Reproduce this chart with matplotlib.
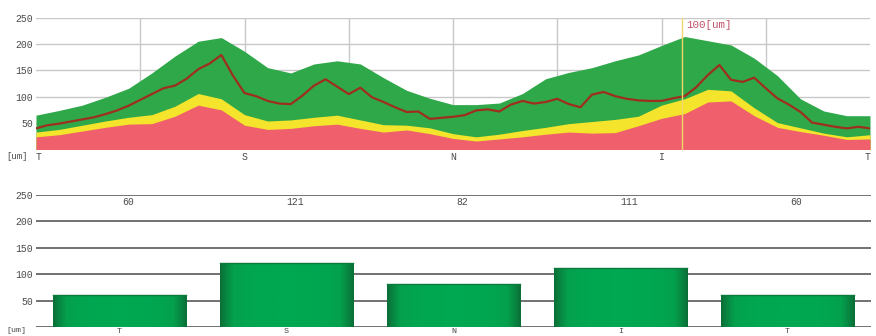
import numpy as np
import matplotlib.pyplot as plt
from matplotlib.colors import LinearSegmentedColormap

# --- top chart: thickness profile (degrees 0..360, T-S-N-I-T) ---
band_deg = list(range(0, 361, 10))
green_top = [65, 74, 84, 99, 116, 145, 177, 205, 212, 186, 155, 145, 162, 168, 162, 136, 112, 97, 85,
             85, 88, 106, 134, 146, 155, 168, 179, 197, 214, 206, 198, 173, 140, 96, 73, 64, 64]
yellow_top = [33, 38, 46, 54, 61, 66, 82, 106, 96, 66, 54, 56, 61, 65, 56, 47, 46, 41, 30,
              24, 29, 36, 42, 49, 53, 57, 63, 84, 96, 114, 111, 79, 51, 41, 31, 24, 28]
red_top = [24, 28, 35, 42, 48, 49, 63, 84, 75, 46, 38, 40, 45, 48, 40, 33, 37, 30, 21,
           16, 20, 24, 29, 33, 31, 32, 45, 59, 68, 90, 92, 64, 42, 34, 27, 19, 20]

meas_deg = list(range(0, 361, 5))
measured = [40, 46, 49, 53, 57, 61, 67, 74, 83, 94, 105, 116, 121, 134, 152, 163, 179, 140, 107,
            101, 92, 87, 86, 102, 121, 133, 119, 105, 117, 99, 90, 80, 71, 72, 58, 60, 62,
            65, 74, 76, 72, 85, 92, 87, 90, 96, 86, 80, 104, 109, 101, 96, 93, 92, 92,
            97, 101, 118, 141, 160, 132, 128, 136, 116, 97, 85, 71, 51, 47, 43, 40, 43, 40]

top_ticks = [0, 90, 180, 270, 360]
top_labels = ["T", "S", "N", "I", "T"]
marker_deg = 279
marker_text = "100[um]"

# --- bottom chart: quadrant averages ---
quadrants = ["T", "S", "N", "I", "T"]
quad_values = [60, 121, 82, 111, 60]

yticks = [50, 100, 150, 200, 250]

GREEN = "#2fa84a"
YELLOW = "#f4e42c"
RED = "#ef5f6c"
LINE = "#9e2f1e"
TXT = "#4a4a4a"
FONT = "Liberation Mono"

fig = plt.figure(figsize=(8.76, 3.36), dpi=100)
ax1 = fig.add_axes([36 / 876, 1 - 149.5 / 336, 834 / 876, 132 / 336])
ax2 = fig.add_axes([36 / 876, 1 - 327 / 336, 835 / 876, 132 / 336])

# top chart
ax1.fill_between(band_deg, 0, green_top, color=GREEN, lw=0, zorder=2)
ax1.fill_between(band_deg, 0, yellow_top, color=YELLOW, lw=0, zorder=3)
ax1.fill_between(band_deg, 0, red_top, color=RED, lw=0, zorder=4)
ax1.plot(meas_deg, measured, color=LINE, lw=1.6, zorder=5)
ax1.axvline(marker_deg, color="#f2d86a", lw=1, zorder=6)
ax1.text(marker_deg + 1.5, 236, marker_text, color="#c0506a", fontsize=7.8,
         family=FONT, va="center", ha="left", zorder=7)

ax1.set_xlim(0, 360)
ax1.set_ylim(0, 250)
for v in yticks:
    ax1.axhline(v, color="#c8c8c8", lw=1, zorder=1)
for v in range(45, 360, 45):
    ax1.axvline(v, color="#c8c8c8", lw=1, zorder=1)
ax1.axhline(0, color="#b0b0b0", lw=1, zorder=1)
ax1.set_yticks(yticks)
ax1.set_yticklabels([str(v) for v in yticks])
ax1.set_xticks(top_ticks)
ax1.set_xticklabels(top_labels)
for i, lab in enumerate(ax1.get_xticklabels()):
    if i == 0:
        lab.set_ha("left")
    elif i == len(top_ticks) - 1:
        lab.set_ha("right")
ax1.text(-0.036, -0.055, "[um]", transform=ax1.transAxes, fontsize=6.5,
         family=FONT, color=TXT, va="center", ha="left")

# bottom chart
pos = np.arange(len(quadrants))
for v in yticks:
    ax2.axhline(v, color="#666666", lw=1.3, zorder=1)
ax2.axhline(0, color="#666666", lw=1.3, zorder=1)
bars = ax2.bar(pos, quad_values, width=0.8, color="#00a64f", lw=0, zorder=2)

cmap = LinearSegmentedColormap.from_list("bar", ["#0b6e36", "#04a04d", "#00a852"])
t = np.linspace(0, 1, 200)
grad = 1 - np.abs(t - 0.5) ** 3 * 8
grad = np.clip(grad, 0, 1)[None, :]
for b in bars:
    x0, w, h = b.get_x(), b.get_width(), b.get_height()
    im = ax2.imshow(grad, extent=[x0, x0 + w, 0, h], aspect="auto", cmap=cmap,
                    vmin=0, vmax=1, zorder=3)
    im.set_clip_path(b)
    ax2.plot([x0, x0 + w], [h, h], color="#0c7a3c", lw=1, zorder=4)

for x, v in zip(pos, quad_values):
    ax2.text(x + 0.05, 237, str(v), ha="center", va="center", fontsize=7,
             family=FONT, color=TXT)

ax2.set_xlim(-0.5, len(quadrants) - 0.5)
ax2.set_ylim(0, 250)
ax2.set_yticks(yticks)
ax2.set_yticklabels([str(v) for v in yticks])
ax2.set_xticks(pos)
ax2.set_xticklabels(quadrants)
ax2.text(-0.036, -0.025, "[um]", transform=ax2.transAxes, fontsize=6,
         family=FONT, color=TXT, va="center", ha="left")

for ax in (ax1, ax2):
    for s in ax.spines.values():
        s.set_visible(False)
    ax.tick_params(length=0, labelsize=7, labelcolor=TXT, pad=2)
    for lab in ax.get_xticklabels() + ax.get_yticklabels():
        lab.set_family(FONT)
    ax.set_facecolor("white")
ax2.tick_params(axis="x", labelsize=6, pad=0.5)

fig.savefig("out.png", dpi=100, facecolor="white")
